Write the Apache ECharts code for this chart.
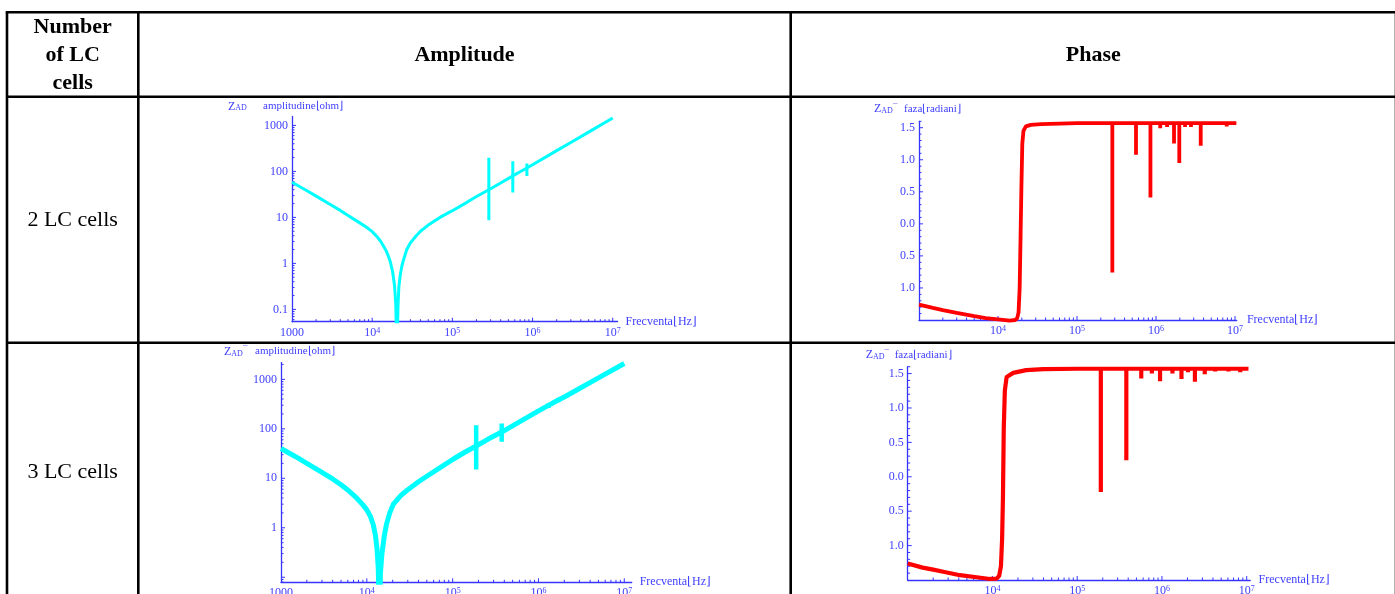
<!DOCTYPE html>
<html><head><meta charset="utf-8">
<script src="https://cdn.jsdelivr.net/npm/echarts@6/dist/echarts.min.js"></script>
<style>html,body{margin:0;padding:0;background:#fff;overflow:hidden}#c{width:1395px;height:594px}</style>
</head><body><div id="c"></div>
<script>
// ---------------- DATA ----------------
const rowLabels = ['2 LC cells', '3 LC cells'];
const colHeaders = ['Number\nof LC\ncells', 'Amplitude', 'Phase'];

// 2 LC cells - amplitude (ohm) vs frequency (Hz): curve + vertical spikes
const amp2Freq = [1000,1500,2000,3000,4000,5000,7000,8500,10000,11500,12600,14000,15000,16000,16800,18000,19000,19700,20300,21000,21500,22400,23500,25000,27000,30000,35000,40000,50000,70000,100000,150000,200000,285000,400000,567000,700000,850000,1000000,2000000,3000000,5000000,10000000];
const amp2Val  = [58,39,29,19,14.2,11,7.6,6.1,4.9,3.8,3.1,2.3,1.85,1.4,1.1,0.65,0.33,0.13,0.01,0.12,0.3,0.56,0.9,1.3,2.0,2.8,3.9,5.0,6.8,10,14,21,28.5,40,56,80,98,119,140,283,425,715,1450];
const amp2SpikeFreq = [285000, 567000, 850000];
const amp2SpikeLow  = [8.7, 35, 79];
const amp2SpikeHigh = [198, 167, 149];

// 2 LC cells - phase (rad)
const ph2Freq = [1000,1500,2000,3000,5000,7000,10000,14000,16500,17500,18200,18800,19300,19800,20300,21000,22500,26000,35000,60000,100000,280000,280000,280000,558000,558000,558000,850000,850000,850000,1130000,1130000,1130000,1380000,1380000,1380000,1690000,1690000,1690000,1970000,1970000,1970000,2330000,2330000,2330000,2770000,2770000,2770000,3680000,3680000,3680000,7850000,7850000,7850000,10400000];
const ph2Val  = [-1.26,-1.31,-1.345,-1.39,-1.44,-1.47,-1.49,-1.51,-1.5,-1.47,-1.38,-1.0,-0.2,0.6,1.25,1.45,1.52,1.545,1.557,1.565,1.57,1.57,-0.76,1.57,1.57,1.08,1.57,1.57,0.41,1.57,1.57,1.49,1.57,1.57,1.51,1.57,1.57,1.255,1.57,1.57,0.95,1.57,1.57,1.51,1.57,1.57,1.51,1.57,1.57,1.22,1.57,1.57,1.52,1.57,1.57];

// 3 LC cells - amplitude (ohm): curve + vertical spikes
const amp3Freq = [1000,1500,2000,3000,4000,5000,6000,7600,9000,10000,11000,11900,12600,13100,13600,14000,14400,15000,16000,17000,18500,20400,25000,29000,40000,50000,70000,100000,140000,188000,260000,373000,600000,1000000,1310000,1700000,2000000,5000000,10000000];
const amp3Val  = [40,27,20,13.2,9.7,7.4,5.8,4.0,2.9,2.3,1.7,1.15,0.7,0.4,0.15,0.01,0.12,0.3,0.7,1.2,2.0,3.0,4.5,5.6,8.5,11,16,24,34,45,62,86,138,230,297,382,440,1070,2090];
const amp3SpikeFreq = [188000, 373000, 1310000, 1700000];
const amp3SpikeLow  = [15, 55, 265, 345];
const amp3SpikeHigh = [118, 128, 330, 420];

// 3 LC cells - phase (rad)
const ph4Freq = [1000,1500,2000,2630,4140,6500,9350,11200,12000,12600,13000,13300,13600,14000,14700,17600,25000,40000,100000,190000,190000,190000,380000,380000,380000,570000,570000,570000,760000,760000,760000,950000,950000,950000,1330000,1330000,1330000,1700000,1700000,1700000,2030000,2030000,2030000,2450000,2450000,2450000,3200000,3200000,3200000,4250000,4250000,4250000,6100000,6100000,6100000,8400000,8400000,8400000,10500000];
const ph4Val  = [-1.26,-1.32,-1.35,-1.38,-1.43,-1.46,-1.485,-1.48,-1.44,-1.3,-0.9,-0.3,0.7,1.25,1.45,1.51,1.55,1.565,1.57,1.57,-0.22,1.57,1.57,0.24,1.57,1.57,1.43,1.57,1.57,1.50,1.57,1.57,1.39,1.57,1.57,1.50,1.57,1.57,1.42,1.57,1.57,1.52,1.57,1.57,1.38,1.57,1.57,1.49,1.57,1.57,1.53,1.57,1.57,1.53,1.57,1.57,1.52,1.57,1.57];

// tick values
const freqDecades = [1000, 10000, 100000, 1000000, 10000000];
const ampDecades = [0.01, 0.1, 1, 10, 100, 1000];
const minorMults = [2,3,4,5,6,7,8,9];
const phaseMajor = [-1.5,-1.0,-0.5,0.0,0.5,1.0,1.5];
const phaseMinorStep = 0.1;

// ---------------- STYLE ----------------
const FONT = '"Liberation Serif","Times New Roman",serif';
const BLUE = '#3535ff';
const TXT = '#4040ff';
const CYAN = '#00ffff';
const RED = '#ff0000';

const G = [
  {left:292, top:116.4, width:325.6, height:205.3, xMin:1000, xMax:1.15e7, yMin:0.054, yMax:1570, type:'amp', show1000:true, show01:true},
  {left:919, top:121.3, width:317.7, height:198.7, xMin:1000, xMax:1.05e7, yMin:-1.5, yMax:1.6, type:'ph', show1000:false},
  {left:281, top:362.6, width:350.7, height:219.7, xMin:1000, xMax:1.22e7, yMin:0.079, yMax:2180, type:'amp', show1000:true, show01:false},
  {left:907.7, top:366.7, width:342.5, height:213.3, xMin:1000, xMax:1.1e7, yMin:-1.5, yMax:1.6, type:'ph', show1000:false}
];

function isPow10(v){ const l=Math.log10(v); return Math.abs(l-Math.round(l))<1e-6; }
function minorLog(decs, lo, hi){ const r=[]; decs.forEach(d=>minorMults.forEach(m=>{const v=d*m; if(v>lo && v<hi) r.push(v);})); return r; }

const richX = {
  b:{fontSize:12, fontFamily:FONT, color:TXT},
  s:{fontSize:8, fontFamily:FONT, color:TXT, verticalAlign:'top', lineHeight:8}
};

const grids=[], xAxes=[], yAxes=[], series=[];
G.forEach((g,i)=>{
  grids.push({left:g.left, top:g.top, width:g.width, height:g.height, containLabel:false, outerBoundsMode:'none'});
  xAxes.push({
    type:'log', gridIndex:i, min:g.xMin, max:g.xMax, logBase:10,
    axisLine:{onZero:false, lineStyle:{color:BLUE, width:1.3}},
    axisTick:{show:false}, splitLine:{show:false},
    axisLabel:{margin:5, color:TXT, fontFamily:FONT, fontSize:12, showMinLabel:true, showMaxLabel:true, rich:richX,
      formatter:(v)=>{ if(!isPow10(v)) return ''; const e=Math.round(Math.log10(v)); if(e===3) return g.show1000?'1000':''; return '{b|10}{s|'+e+'}'; }},
    name:'Frecventa\u230AHz\u230B', nameLocation:'end', nameGap:8,
    nameTextStyle:{color:TXT, fontFamily:FONT, fontSize:12, align:'left', verticalAlign:'middle'}
  });
  if(g.type==='amp'){
    yAxes.push({
      type:'log', gridIndex:i, min:g.yMin, max:g.yMax, logBase:10,
      axisLine:{onZero:false, lineStyle:{color:BLUE, width:1.3}},
      axisTick:{show:false}, splitLine:{show:false},
      axisLabel:{margin:4, color:TXT, fontFamily:FONT, fontSize:12,
        formatter:(v)=>{ if(!isPow10(v)) return ''; if(v<0.5 && !g.show01) return ''; return v<1? String(+v.toFixed(1)) : String(Math.round(v)); }}
    });
  } else {
    yAxes.push({
      type:'value', gridIndex:i, min:g.yMin, max:g.yMax, interval:0.5,
      axisLine:{onZero:false, lineStyle:{color:BLUE, width:1.3}},
      axisTick:{show:false}, splitLine:{show:false},
      axisLabel:{margin:4, color:TXT, fontFamily:FONT, fontSize:12, showMinLabel:true, showMaxLabel:true,
        formatter:(v)=>{ const ok=phaseMajor.some(p=>Math.abs(p-v)<1e-6); if(!ok || Math.abs(v+1.5)<1e-6) return ''; return Math.abs(v).toFixed(1); }}
    });
  }
  // ticks (inside, Mathematica style)
  const data=[];
  freqDecades.forEach(v=>{ if(v>g.xMin && v<=g.xMax) data.push([v,g.yMin,0,4]); });
  minorLog(freqDecades, g.xMin, g.xMax).forEach(v=>data.push([v,g.yMin,0,2.5]));
  if(g.type==='amp'){
    ampDecades.forEach(v=>{ if(v>g.yMin && v<g.yMax) data.push([g.xMin,v,1,4]); });
    minorLog(ampDecades, g.yMin, g.yMax).forEach(v=>data.push([g.xMin,v,1,2.5]));
  } else {
    phaseMajor.forEach(v=>{ if(v>g.yMin) data.push([g.xMin,v,1,4]); });
    for(let k=Math.round(g.yMin/phaseMinorStep); k*phaseMinorStep<=g.yMax+1e-9; k++){
      const v=+(k*phaseMinorStep).toFixed(2);
      if(!phaseMajor.some(p=>Math.abs(p-v)<1e-6)) data.push([g.xMin,v,1,2.5]);
    }
  }
  series.push({type:'custom', xAxisIndex:i, yAxisIndex:i, silent:true, clip:false, z:3, data,
    renderItem:(params, api)=>{
      const p=api.coord([api.value(0), api.value(1)]);
      const vert=api.value(2)===0, len=api.value(3);
      return {type:'line', shape: vert? {x1:p[0],y1:p[1],x2:p[0],y2:p[1]-len} : {x1:p[0],y1:p[1],x2:p[0]+len,y2:p[1]},
        style:{stroke:BLUE, lineWidth:1}};
    }});
});

function pairs(f,v){ return f.map((x,k)=>[x,v[k]]); }
function spikeSeries(idx, f, lo, hi, w){
  return {type:'custom', xAxisIndex:idx, yAxisIndex:idx, silent:true, clip:true, z:5,
    data: f.map((x,k)=>[x, lo[k], hi[k]]),
    renderItem:(params, api)=>{
      const a=api.coord([api.value(0), api.value(1)]), b=api.coord([api.value(0), api.value(2)]);
      return {type:'line', shape:{x1:a[0],y1:a[1],x2:b[0],y2:b[1]}, style:{stroke:CYAN, lineWidth:w, lineCap:'butt'}};
    }};
}
series.push({type:'line', xAxisIndex:0, yAxisIndex:0, data:pairs(amp2Freq,amp2Val), showSymbol:false, symbol:'none', clip:true, lineStyle:{color:CYAN,width:3,join:'round'}, z:5});
series.push(spikeSeries(0, amp2SpikeFreq, amp2SpikeLow, amp2SpikeHigh, 3));
series.push({type:'line', xAxisIndex:1, yAxisIndex:1, data:pairs(ph2Freq,ph2Val), showSymbol:false, symbol:'none', clip:false, lineStyle:{color:RED,width:3.8,join:'bevel'}, z:5});
series.push({type:'line', xAxisIndex:2, yAxisIndex:2, data:pairs(amp3Freq,amp3Val), showSymbol:false, symbol:'none', clip:true, lineStyle:{color:CYAN,width:5,join:'round'}, z:5});
series.push(spikeSeries(2, amp3SpikeFreq, amp3SpikeLow, amp3SpikeHigh, 4.5));
series.push({type:'line', xAxisIndex:3, yAxisIndex:3, data:pairs(ph4Freq,ph4Val), showSymbol:false, symbol:'none', clip:false, lineStyle:{color:RED,width:4.2,join:'bevel'}, z:5});

// ---------------- TABLE + TITLES (graphic) ----------------
const L = {x0:7, x1:138.3, x2:790.7, x3:1396, y0:12.3, y1:96.7, y2:342.7, y3:600};
const graphic=[];
function hline(y,x1,x2){ graphic.push({type:'line', shape:{x1:x1,y1:y,x2:x2,y2:y}, style:{stroke:'#000', lineWidth:2.6}, silent:true}); }
function vline(x,y1,y2){ graphic.push({type:'line', shape:{x1:x,y1:y1,x2:x,y2:y2}, style:{stroke:'#000', lineWidth:2.6}, silent:true}); }
hline(L.y0, L.x0-1.3, L.x3); hline(L.y1, L.x0, L.x3); hline(L.y2, L.x0, L.x3);
vline(L.x0, L.y0, L.y3); vline(L.x1, L.y0, L.y3); vline(L.x2, L.y0, L.y3); vline(L.x3, L.y0, L.y3);

function txt(x,y,text,opt){ graphic.push({type:'text', x:x, y:y, silent:true, style:Object.assign({text:text, fill:'#000', fontFamily:FONT, align:'center', verticalAlign:'middle', textAlign:'center', textVerticalAlign:'middle'}, opt||{})}); }
txt((L.x0+L.x1)/2, 55.5, colHeaders[0], {fontSize:22, fontWeight:'bold', lineHeight:27.7});
txt((L.x1+L.x2)/2, 55.5, colHeaders[1], {fontSize:22, fontWeight:'bold'});
txt((L.x2+L.x3)/2, 55.5, colHeaders[2], {fontSize:22, fontWeight:'bold'});
txt((L.x0+L.x1)/2, 220, rowLabels[0], {fontSize:22});
txt((L.x0+L.x1)/2, 472, rowLabels[1], {fontSize:22});

// axis titles (Z_AD ...)
const zRich = {
  z:{fontSize:12, fontFamily:FONT, fill:TXT, color:TXT},
  sub:{fontSize:8, fontFamily:FONT, fill:TXT, color:TXT, verticalAlign:'bottom', lineHeight:8},
  sup:{fontSize:9, fontFamily:FONT, fill:TXT, color:TXT, verticalAlign:'top', lineHeight:7}
};
const yTitles = [
  {zx:G[0].left-64, tx:G[0].left-29, y:G[0].top-10, bar:false, t:'amplitudine\u230Aohm\u230B'},
  {zx:G[1].left-45, tx:G[1].left-15, y:G[1].top-12, bar:true, t:'faza\u230Aradiani\u230B'},
  {zx:G[2].left-57, tx:G[2].left-26, y:G[2].top-11, bar:true, t:'amplitudine\u230Aohm\u230B'},
  {zx:G[3].left-42, tx:G[3].left-13, y:G[3].top-12, bar:true, t:'faza\u230Aradiani\u230B'}
];
yTitles.forEach(o=>{
  graphic.push({type:'text', x:o.zx, y:o.y, silent:true, style:{text:'{z|Z}{sub|AD}'+(o.bar?'{sup|\u00AF}':''), rich:zRich, align:'left', verticalAlign:'middle', textAlign:'left', textVerticalAlign:'middle'}});
  graphic.push({type:'text', x:o.tx, y:o.y, silent:true, style:{text:o.t, fill:TXT, fontSize:11, fontFamily:FONT, align:'left', verticalAlign:'middle', textAlign:'left', textVerticalAlign:'middle'}});
});

const chart = echarts.init(document.getElementById('c'), null, {renderer:'canvas'});
chart.setOption({
  animation:false, backgroundColor:'#fff',
  grid:grids, xAxis:xAxes, yAxis:yAxes, series:series, graphic:graphic
});
</script></body></html>
